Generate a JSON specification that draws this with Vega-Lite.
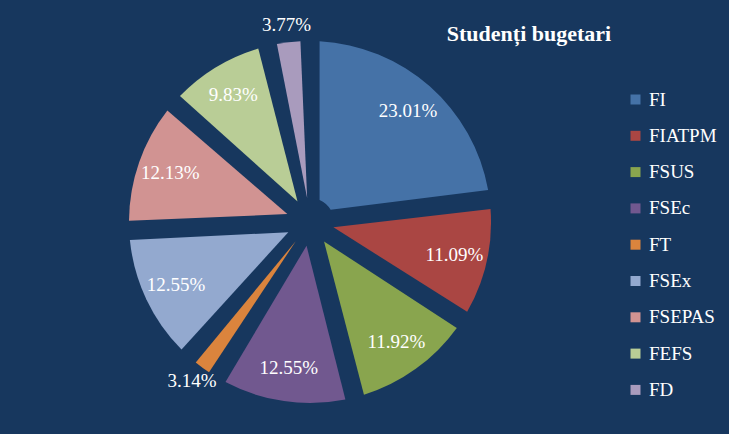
{
  "$schema": "https://vega.github.io/schema/vega-lite/v6.json",
  "autosize": {"type": "none"},
  "width": 620,
  "height": 444,
  "padding": {"left": 0, "top": 0, "right": 109, "bottom": 0},
  "background": "#17375E",
  "config": {
    "view": {"stroke": null},
    "font": "Liberation Serif",
    "legend": {"labelFont": "Liberation Serif"},
    "text": {"font": "Liberation Serif"}
  },
  "title": {
    "text": "Studenți bugetari",
    "anchor": "middle",
    "frame": "group",
    "dx": 219,
    "dy": 63,
    "offset": 0,
    "baseline": "alphabetic",
    "fontSize": 22,
    "font": "Liberation Serif",
    "fontWeight": "bold",
    "color": "#FFFFFF"
  },
  "data": {
    "values": [
      {"faculty": "FI", "share": 0.2301},
      {"faculty": "FIATPM", "share": 0.1109},
      {"faculty": "FSUS", "share": 0.1192},
      {"faculty": "FSEc", "share": 0.1255},
      {"faculty": "FT", "share": 0.0314},
      {"faculty": "FSEx", "share": 0.1255},
      {"faculty": "FSEPAS", "share": 0.1213},
      {"faculty": "FEFS", "share": 0.0983},
      {"faculty": "FD", "share": 0.0377}
    ]
  },
  "transform": [{"window": [{"op": "row_number", "as": "rank"}]}],
  "encoding": {
    "theta": {"field": "share", "type": "quantitative", "stack": true},
    "order": {"field": "rank", "type": "quantitative"},
    "color": {
      "field": "faculty",
      "type": "nominal",
      "sort": ["FI", "FIATPM", "FSUS", "FSEc", "FT", "FSEx", "FSEPAS", "FEFS", "FD"],
      "scale": {
        "domain": ["FI", "FIATPM", "FSUS", "FSEc", "FT", "FSEx", "FSEPAS", "FEFS", "FD"],
        "range": ["#4572A7", "#AA4643", "#89A54E", "#71588F", "#DB843D", "#93A9CF", "#D19392", "#B9CD96", "#A99BBD"]
      },
      "legend": {
        "orient": "none",
        "legendX": 626,
        "legendY": 90,
        "title": null,
        "padding": 0,
        "symbolType": "square",
        "symbolSize": 100,
        "symbolStrokeWidth": 0,
        "labelFont": "Liberation Serif",
        "labelFontSize": 19,
        "labelColor": "#FFFFFF",
        "labelOffset": 4,
        "rowPadding": 16.3
      }
    }
  },
  "layer": [
    {"mark": {"type": "arc", "outerRadius": 181, "innerRadius": 24, "padAngle": 0.105}},
    {
      "mark": {"type": "text", "radius": 148, "font": "Liberation Serif", "fontSize": 19},
      "encoding": {
        "text": {"condition": {"test": "datum.share > 0.05", "field": "share", "format": ".2%"}, "value": ""},
        "color": {
          "condition": {"test": "datum.share >= 0", "value": "#FFFFFF"},
          "field": "faculty",
          "type": "nominal",
          "sort": ["FI", "FIATPM", "FSUS", "FSEc", "FT", "FSEx", "FSEPAS", "FEFS", "FD"]
        }
      }
    },
    {
      "mark": {"type": "text", "radius": 198, "font": "Liberation Serif", "fontSize": 19},
      "encoding": {
        "text": {"condition": {"test": "datum.share < 0.05", "field": "share", "format": ".2%"}, "value": ""},
        "color": {
          "condition": {"test": "datum.share >= 0", "value": "#FFFFFF"},
          "field": "faculty",
          "type": "nominal",
          "sort": ["FI", "FIATPM", "FSUS", "FSEc", "FT", "FSEx", "FSEPAS", "FEFS", "FD"]
        }
      }
    }
  ]
}
